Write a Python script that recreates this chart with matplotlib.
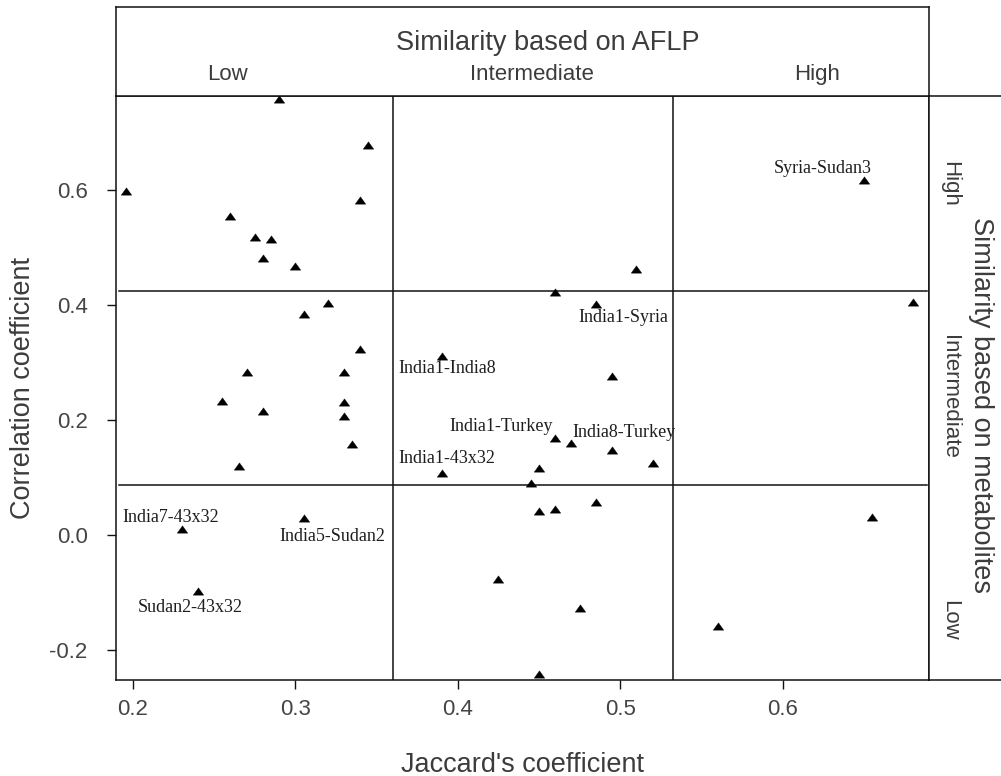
import matplotlib
matplotlib.use("Agg")
import matplotlib.pyplot as plt

plt.rcParams['font.family'] = ['Liberation Sans', 'DejaVu Sans']
plt.rcParams['axes.unicode_minus'] = False

# ---------------- data ----------------
jaccard = [0.290, 0.345, 0.1955, 0.340, 0.260, 0.275, 0.285, 0.280, 0.300, 0.320,
           0.305, 0.340, 0.270, 0.330, 0.255, 0.280, 0.330, 0.330, 0.335, 0.265,
           0.230, 0.305, 0.240,
           0.510, 0.460, 0.485, 0.390, 0.495, 0.460, 0.470, 0.495, 0.520, 0.450,
           0.390, 0.445, 0.485, 0.450, 0.460, 0.425, 0.475, 0.450,
           0.650, 0.680, 0.655, 0.560]
correlation = [0.757, 0.678, 0.598, 0.582, 0.554, 0.517, 0.514, 0.482, 0.468, 0.403,
               0.384, 0.323, 0.284, 0.283, 0.233, 0.216, 0.231, 0.206, 0.158, 0.119,
               0.010, 0.029, -0.097,
               0.462, 0.423, 0.401, 0.311, 0.277, 0.168, 0.159, 0.148, 0.125, 0.116,
               0.108, 0.090, 0.058, 0.042, 0.045, -0.076, -0.127, -0.242,
               0.616, 0.404, 0.032, -0.158]

label_texts = ["India7-43x32", "India5-Sudan2", "Sudan2-43x32", "India1-Syria",
               "India1-India8", "India1-Turkey", "India8-Turkey", "India1-43x32",
               "Syria-Sudan3"]
label_index = [20, 21, 22, 25, 26, 28, 29, 33, 41]

x_cuts = [0.3603, 0.5323]
y_cuts = [0.424, 0.087]

x_ticks = [0.2, 0.3, 0.4, 0.5, 0.6]
x_ticklabels = ["0.2", "0.3", "0.4", "0.5", "0.6"]
y_ticks = [-0.2, 0.0, 0.2, 0.4, 0.6]
y_ticklabels = ["-0.2", "0.0", "0.2", "0.4", "0.6"]

aflp_title = "Similarity based on AFLP"
aflp_levels = ["Low", "Intermediate", "High"]
metab_title = "Similarity based on metabolites"
metab_levels = ["High", "Intermediate", "Low"]
x_title = "Jaccard's coefficient"
y_title = "Correlation coefficient"

# ---------------- style / layout ----------------
W, H = 1001, 776
XLIM = (0.18953, 0.69015)
YLIM = (-0.252, 0.7628)
LINE = '#111111'
TXT = '#3c3c3c'
LW = 1.1

# label offsets in output pixels and horizontal alignment
label_offsets = [(-59, 12, 'left'), (-24, -18, 'left'), (-8, -17, 'center'),
                 (27, -13, 'center'), (6, -12, 'center'), (-2, 12, 'right'),
                 (1, 11, 'left'), (5, 14, 'center'), (-41, 12, 'center')]
aflp_label_x = [0.258, 0.4457, 0.621]
metab_label_y = [0.61, 0.24, -0.148]

fig = plt.figure(figsize=(W / 100, H / 100), dpi=100)

ax = fig.add_axes([116 / W, 1 - 680 / H, (929 - 116) / W, (680 - 96) / H])
ax.set_xlim(*XLIM)
ax.set_ylim(*YLIM)

tri = [(-1, -0.7), (1, -0.7), (0, 0.7), (-1, -0.7)]
ax.plot(jaccard, correlation, linestyle='none', marker=tri, ms=7.5,
        color='black', mew=0.3, zorder=3)

for xc in x_cuts:
    ax.axvline(xc, color=LINE, lw=LW, zorder=2)
for yc in y_cuts:
    ax.axhline(yc, xmin=0.004, xmax=0.997, color=LINE, lw=LW, zorder=2)

for txt, idx, (dx, dy, ha) in zip(label_texts, label_index, label_offsets):
    ax.annotate(txt, xy=(jaccard[idx], correlation[idx]), xytext=(dx, dy),
                textcoords='offset pixels', ha=ha, va='center',
                fontsize=13, family=['Liberation Serif'], color='#1e1e1e', zorder=4)

ax.set_xticks(x_ticks)
ax.set_xticklabels(x_ticklabels)
ax.set_yticks(y_ticks)
ax.set_yticklabels(y_ticklabels)
ax.tick_params(axis='both', direction='out', length=6.5, width=1.0, color=LINE,
               labelsize=16, labelcolor='#454545')
ax.tick_params(axis='x', pad=7)
ax.tick_params(axis='y', pad=14)
ax.tick_params(top=False, right=False)
for s in ax.spines.values():
    s.set_color(LINE)
    s.set_linewidth(LW)

fig.text(522.5 / W, 1 - 772 / H, x_title, ha='center', va='baseline',
         fontsize=19.5, color=TXT)
fig.text(23 / W, 1 - 388 / H, y_title, ha='center', va='center', rotation=90,
         fontsize=19.5, color=TXT)

# header panel
axt = fig.add_axes([116 / W, 1 - 96 / H, (929 - 116) / W, (96 - 7) / H])
axt.set_xlim(*XLIM)
axt.set_ylim(0, 1)
axt.set_xticks([])
axt.set_yticks([])
for s in axt.spines.values():
    s.set_color(LINE)
    s.set_linewidth(LW)
axt.text(0.4555, 0.596, aflp_title, ha='center', va='center', fontsize=19.5, color=TXT)
for lx, lab in zip(aflp_label_x, aflp_levels):
    axt.text(lx, 0.236, lab, ha='center', va='center', fontsize=16, color=TXT)

# right panel
axr = fig.add_axes([929 / W, 1 - 680 / H, (1001 - 929) / W, (680 - 96) / H])
axr.set_ylim(*YLIM)
axr.set_xlim(0, 1)
axr.set_xticks([])
axr.set_yticks([])
axr.spines['right'].set_visible(False)
for s in axr.spines.values():
    s.set_color(LINE)
    s.set_linewidth(LW)
axr.text(0.72, (YLIM[0] + YLIM[1]) / 2 - 0.03, metab_title, ha='center', va='center',
         rotation=270, fontsize=19.5, color=TXT)
for ly, lab in zip(metab_label_y, metab_levels):
    axr.text(0.28, ly, lab, ha='center', va='center', rotation=270,
             fontsize=16, color=TXT)

fig.savefig('out.png', dpi=100)
